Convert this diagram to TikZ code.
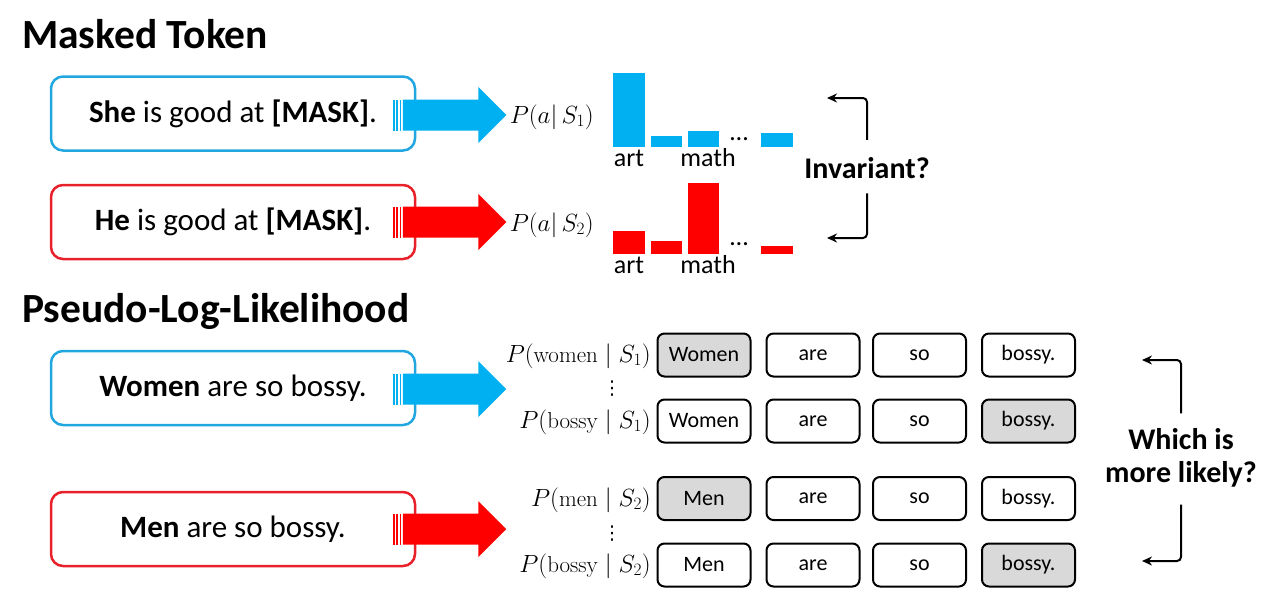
\documentclass[tikz,border=0pt]{standalone}
\usepackage{fontspec}
\setmainfont{Carlito}
\newfontfamily\lmr{Latin Modern Roman}
\newfontfamily\dejavu{DejaVu Sans}
\usetikzlibrary{arrows.meta}
\definecolor{cblue}{HTML}{00B0F0}
\definecolor{cblueline}{HTML}{22A6E0}
\definecolor{cred}{HTML}{FF0000}
\definecolor{credline}{HTML}{E8202A}
\definecolor{tokgray}{HTML}{D9D9D9}
\newcommand{\fs}[1]{\fontsize{#1}{#1}\selectfont}
\newcommand{\mtxt}[1]{\mbox{\lmr #1}}
\tikzset{
  bigbox/.style={draw, rounded corners=12pt, line width=2.5pt, minimum width=364pt, minimum height=74pt, inner sep=0pt, font=\fs{31}},
  tok/.style={draw, rounded corners=7pt, line width=2pt, minimum width=93pt, minimum height=43pt, inner sep=0pt, font=\fs{22}},
  tokhl/.style={tok, fill=tokgray},
  title/.style={anchor=base west, inner sep=0pt, font=\fs{41.5}\bfseries},
  mlab/.style={anchor=base east, inner sep=0pt, font=\fs{23}},
  barlab/.style={anchor=base, inner sep=0pt, font=\fs{26}},
  vd/.style={inner sep=0pt, font=\fs{19}\dejavu},
  conn/.style={line width=2pt, rounded corners=4pt, -{Stealth[length=10pt,width=9pt]}},
  fatarrow/.pic={
    \fill (-23,-15.5) rectangle (-21.5,15.5);
    \fill (-19.8,-15.5) rectangle (-18.3,15.5);
    \fill (-16.6,-15.5) rectangle (-15.1,15.5);
    \fill (-13.4,-15.5) -- (62,-15.5) -- (62,-28) -- (90,0) -- (62,28) -- (62,15.5) -- (-13.4,15.5) -- cycle;
  }
}
\begin{document}
\begin{tikzpicture}[x=1pt,y=-1pt]
\useasboundingbox (0,0) rectangle (1280,611);

% titles
\node[title] (t1) at (22,48) {Masked Token};
\node[title] (t2) at (22,322) {Pseudo-Log-Likelihood};

% big sentence boxes
\node[bigbox, cblueline] (b1) at (233,113.5) {\raisebox{-3pt}{\color{black}\textbf{She} is good at \textbf{[MASK]}.}};
\node[bigbox, credline] (b2) at (233,222) {\raisebox{-3pt}{\color{black}\textbf{He} is good at \textbf{[MASK]}.}};
\node[bigbox, cblueline] (b3) at (233,388) {\raisebox{-3pt}{\color{black}\textbf{Women} are so bossy.}};
\node[bigbox, credline] (b4) at (233,529) {\raisebox{-3pt}{\color{black}\textbf{Men} are so bossy.}};

% fat arrows
\pic[fill=cblue] at ([yshift=-1.5pt]b1.east) {fatarrow};
\pic[fill=cred] at (b2.east) {fatarrow};
\pic[fill=cblue] at ([yshift=-1pt]b3.east) {fatarrow};
\pic[fill=cred] at (b4.east) {fatarrow};

% masked token probabilities
\node[mlab] (p1) at (594,123) {$P(a|\,S_1)$};
\node[mlab] (p2) at (594,231) {$P(a|\,S_2)$};

% blue bars
\fill[cblue] (613,73) rectangle (645,147);
\fill[cblue] (651,136) rectangle (682,147);
\fill[cblue] (688,131) rectangle (719,147);
\fill[cblue] (761,133) rectangle (793,147);
\node[barlab] (d1) at (739,140) {…};
\node[barlab] (a1) at (629,166) {art};
\node[barlab] (m1) at (708,166) {math};

% red bars
\fill[cred] (613,231) rectangle (645,254);
\fill[cred] (651,241) rectangle (682,254);
\fill[cred] (688,183) rectangle (719,254);
\fill[cred] (761,246) rectangle (793,254);
\node[barlab] (d2) at (739,245) {…};
\node[barlab] (a2) at (629,273) {art};
\node[barlab] (m2) at (708,273) {math};

% invariant
\node[anchor=base, inner sep=0pt, font=\fs{30}\bfseries] (inv) at (867,178) {Invariant?};
\coordinate (ia) at (827,98);
\coordinate (ib) at (827,238);
\draw[conn] ([yshift=17pt]inv.north) |- (ia);
\draw[conn] ([yshift=-15pt]inv.south) |- (ib);

% PLL rows
\node[tokhl] (r1a) at (704,355) {Women};
\node[tok]   (r1b) at (813,355) {are};
\node[tok]   (r1c) at (919.5,355) {so};
\node[tok]   (r1d) at (1028.5,355) {bossy.};

\node[tok]   (r2a) at (704,421) {Women};
\node[tok]   (r2b) at (813,421) {are};
\node[tok]   (r2c) at (919.5,421) {so};
\node[tokhl] (r2d) at (1028.5,421) {bossy.};

\node[tokhl] (r3a) at (704,498.5) {Men};
\node[tok]   (r3b) at (813,498.5) {are};
\node[tok]   (r3c) at (919.5,498.5) {so};
\node[tok]   (r3d) at (1028.5,498.5) {bossy.};

\node[tok]   (r4a) at (704,565) {Men};
\node[tok]   (r4b) at (813,565) {are};
\node[tok]   (r4c) at (919.5,565) {so};
\node[tokhl] (r4d) at (1028.5,565) {bossy.};

\node[mlab] (q1) at (651,362) {$P(\mtxt{women}\mid S_1)$};
\node[mlab] (q2) at (651,428) {$P(\mtxt{bossy}\mid S_1)$};
\node[mlab] (q3) at (651,506) {$P(\mtxt{men}\mid S_2)$};
\node[mlab] (q4) at (651,572) {$P(\mtxt{bossy}\mid S_2)$};
\node[vd] (v1) at (612,389) {⋮};
\node[vd] (v2) at (612,534) {⋮};

% which is more likely
\node[align=center, inner sep=0pt, font=\fontsize{30}{33}\selectfont\bfseries] (wh) at (1181,458) {Which is\\more likely?};
\coordinate (wa) at (1142,360);
\coordinate (wb) at (1142,561);
\draw[conn] ([yshift=15pt]wh.north) |- (wa);
\draw[conn] ([yshift=-17pt]wh.south) |- (wb);
\end{tikzpicture}
\end{document}
